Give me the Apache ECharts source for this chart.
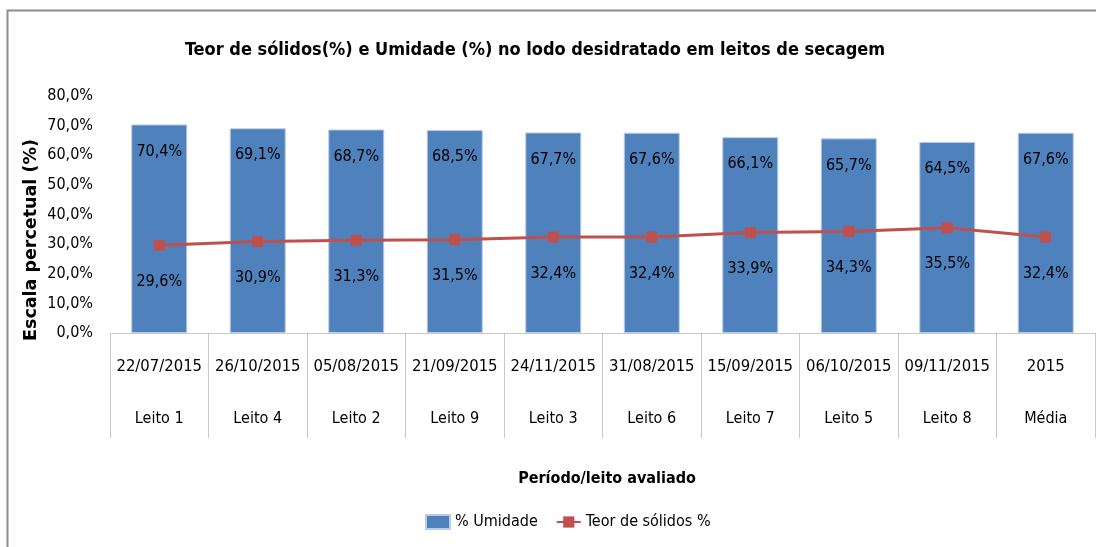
<!DOCTYPE html>
<html>
<head>
<meta charset="utf-8">
<script src="https://cdn.jsdelivr.net/npm/echarts@6/dist/echarts.min.js"></script>
<style>
  html, body { margin: 0; padding: 0; background: #fff; }
  #chart { width: 1096px; height: 547px; }
</style>
</head>
<body>
<div id="chart"></div>
<script>
// dados
const datas = ['22/07/2015', '26/10/2015', '05/08/2015', '21/09/2015', '24/11/2015', '31/08/2015', '15/09/2015', '06/10/2015', '09/11/2015', '2015'];
const leitos = ['Leito 1', 'Leito 4', 'Leito 2', 'Leito 9', 'Leito 3', 'Leito 6', 'Leito 7', 'Leito 5', 'Leito 8', 'Média'];
const umidade = [70.4, 69.1, 68.7, 68.5, 67.7, 67.6, 66.1, 65.7, 64.5, 67.6];
const solidos = [29.6, 30.9, 31.3, 31.5, 32.4, 32.4, 33.9, 34.3, 35.5, 32.4];

const FONT = "'DejaVu Sans Condensed', 'Liberation Sans Narrow', sans-serif";
const pct = v => v.toFixed(1).replace('.', ',') + '%';

const chart = echarts.init(document.getElementById('chart'));
chart.setOption({
  animation: false,
  textStyle: { fontFamily: FONT },
  title: {
    text: 'Teor de sólidos(%) e Umidade (%) no lodo desidratado em leitos de secagem',
    left: 530,
    textAlign: 'center',
    top: 36,
    textStyle: { fontFamily: FONT, fontSize: 18, fontWeight: 'bold', color: '#000' }
  },
  legend: {
    bottom: 12,
    left: 420,
    itemWidth: 24,
    itemHeight: 14,
    itemGap: 18,
    textStyle: { fontFamily: FONT, fontSize: 16, color: '#000' },
    data: [{ name: '% Umidade', icon: 'rect' }, { name: 'Teor de sólidos %' }]
  },
  grid: { left: 110, right: 1, top: 96, bottom: 214 },
  xAxis: [
    {
      type: 'category',
      data: datas,
      position: 'bottom',
      axisLine: { lineStyle: { color: '#c8c8c8' } },
      axisTick: { show: true, interval: 0, length: 105, lineStyle: { color: '#c8c8c8' } },
      axisLabel: { interval: 0, margin: 25, fontFamily: FONT, fontSize: 16.5, color: '#000' }
    },
    {
      type: 'category',
      data: leitos,
      position: 'bottom',
      offset: 0,
      axisLine: { show: false },
      axisTick: { show: false },
      axisLabel: { interval: 0, margin: 78, fontFamily: FONT, fontSize: 16, color: '#000' }
    }
  ],
  yAxis: {
    type: 'value',
    min: 0,
    max: 80,
    interval: 10,
    splitLine: { show: false },
    axisLine: { show: false },
    axisTick: { show: false },
    axisLabel: { margin: 17, fontFamily: FONT, fontSize: 16, color: '#000', formatter: pct }
  },
  graphic: [
    {
      type: 'text',
      x: 31,
      y: 240,
      rotation: Math.PI / 2,
      style: {
        text: 'Escala percetual (%)',
        font: "bold 17.5px 'DejaVu Sans', sans-serif",
        fill: '#000',
        align: 'center',
        verticalAlign: 'middle'
      }
    },
    {
      type: 'text',
      x: 607,
      y: 479,
      style: {
        text: 'Período/leito avaliado',
        font: "bold 16px 'DejaVu Sans Condensed', 'Liberation Sans Narrow', sans-serif",
        fill: '#000',
        align: 'center',
        verticalAlign: 'middle'
      }
    },
    {
      type: 'polyline',
      shape: { points: [[7.5, 547], [7.5, 10.5], [1096, 10.5]] },
      style: { fill: 'none', stroke: '#8c8c8c', lineWidth: 2 },
      silent: true
    }
  ],
  series: [
    {
      name: '% Umidade',
      type: 'bar',
      data: umidade,
      barWidth: 56,
      itemStyle: { color: '#4F81BD', borderColor: '#b9cde5', borderWidth: 1 },
      label: {
        show: true,
        position: 'insideTop',
        distance: 19,
        fontFamily: FONT,
        fontSize: 16,
        color: '#000',
        formatter: p => pct(p.value)
      }
    },
    {
      name: 'Teor de sólidos %',
      type: 'line',
      data: solidos,
      symbol: 'rect',
      symbolSize: 11,
      lineStyle: { color: '#C0504D', width: 3 },
      itemStyle: { color: '#C0504D' },
      label: {
        show: true,
        position: 'bottom',
        distance: 23,
        fontFamily: FONT,
        fontSize: 16,
        color: '#000',
        formatter: p => pct(p.value)
      },
      z: 3
    }
  ]
});
</script>
</body>
</html>
